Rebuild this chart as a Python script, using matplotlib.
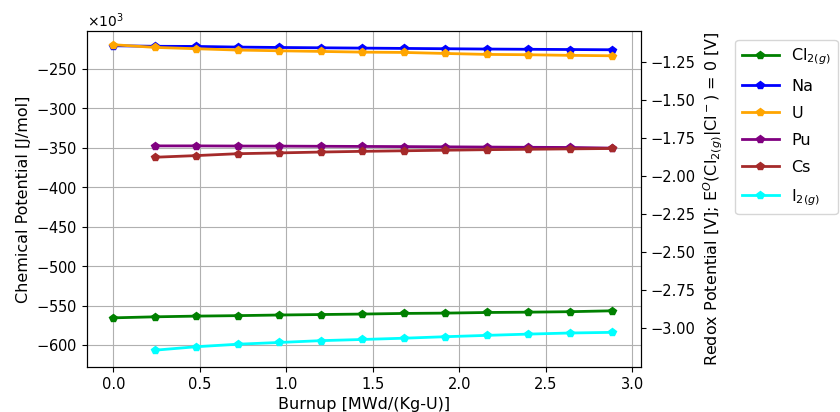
import numpy as np
import matplotlib
matplotlib.use("Agg")
import matplotlib.pyplot as plt

# burnup steps [MWd/(Kg-U)]
burnup = [0.0, 0.24, 0.48, 0.72, 0.96, 1.20, 1.44, 1.68, 1.92, 2.16, 2.40, 2.64, 2.88]

# chemical potentials [kJ/mol]
cl2 = [-565.6, -564.3, -563.4, -562.8, -562.0, -561.4, -560.8, -560.0, -559.6, -558.8, -558.4, -557.8, -556.7]
na = [-220.8, -221.5, -221.7, -222.5, -223.0, -223.4, -223.8, -224.2, -224.6, -225.0, -225.3, -225.6, -225.9]
u = [-219.5, -222.9, -224.6, -226.3, -227.2, -228.0, -228.9, -229.3, -230.6, -231.8, -232.2, -233.0, -233.5]
# Pu, Cs and I2 start at the first burnup step
pu = [-347.7, -347.7, -347.9, -348.0, -348.2, -348.4, -348.6, -348.9, -349.2, -349.5, -349.7, -350.5]
cs = [-362.1, -360.0, -357.6, -356.6, -355.5, -354.6, -353.9, -353.2, -352.5, -352.0, -351.5, -351.0]
i2 = [-606.6, -602.2, -599.0, -596.8, -594.5, -593.0, -591.4, -589.5, -587.8, -586.2, -584.8, -584.0]

labels = ["Cl$_{2(g)}$", "Na", "U", "Pu", "Cs", "I$_{2(g)}$"]
colors = ["green", "blue", "orange", "purple", "brown", "cyan"]

fig, ax = plt.subplots(figsize=(8.4, 4.12), dpi=100)
fig.subplots_adjust(left=0.104, right=0.763, top=0.925, bottom=0.109)

series = [cl2, na, u, pu, cs, i2]
for vals, lab, col in zip(series, labels, colors):
    x = burnup[len(burnup) - len(vals):]
    ax.plot(x, np.array(vals) * 1e3, color=col, marker="p", lw=2, ms=6, label=lab)

ax.set_ylim(-628e3, -202e3)
ax.set_xlim(-0.15, 3.05)
ax.ticklabel_format(axis="y", style="sci", scilimits=(3, 3), useMathText=True)
ax.grid(True)
ax.set_xlabel("Burnup [MWd/(Kg-U)]", fontsize=11.5)
ax.set_ylabel("Chemical Potential [J/mol]", fontsize=11.5)
ax.tick_params(labelsize=10.5)

ax2 = ax.twinx()
ax2.set_ylim(-3.257, -1.046)
ax2.set_yticks(np.arange(-3.0, -1.0, 0.25))
ax2.set_ylabel("Redox Potential [V]; E$^O$(Cl$_{2(g)}$|Cl$^-$) = 0 [V]", fontsize=11.5)
ax2.tick_params(labelsize=10.5)

fig.legend(loc="upper left", bbox_to_anchor=(0.866, 0.922), fontsize=11.5,
           labelspacing=0.75, handlelength=2.3)

fig.savefig("out.png", dpi=100)
